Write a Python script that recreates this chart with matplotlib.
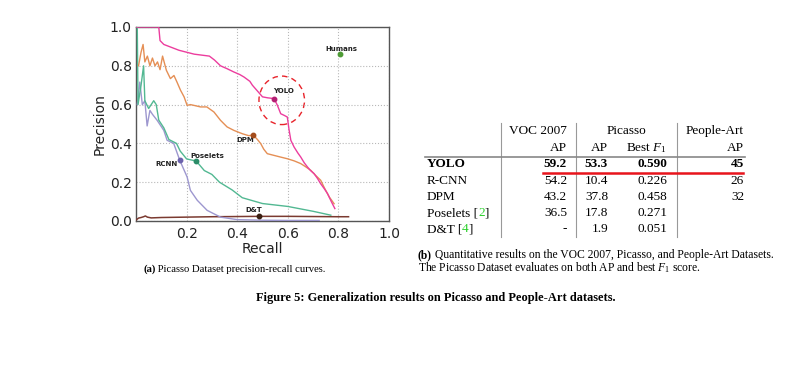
import matplotlib
matplotlib.use("Agg")
import matplotlib.pyplot as plt
from matplotlib.patches import Ellipse
from matplotlib.lines import Line2D

plt.rcParams['mathtext.fontset'] = 'custom'
plt.rcParams['mathtext.rm'] = 'Liberation Serif'
plt.rcParams['mathtext.it'] = 'Liberation Serif:italic'

# ---- precision-recall curves ----
yolo_r = [0.0, 0.09, 0.095, 0.11, 0.13, 0.15, 0.17, 0.2, 0.23, 0.26, 0.29, 0.31, 0.334, 0.36,
          0.387, 0.41, 0.427, 0.45, 0.46, 0.48, 0.50, 0.52, 0.546, 0.559, 0.572, 0.585, 0.598,
          0.605, 0.612, 0.625, 0.64, 0.651, 0.665, 0.678, 0.69, 0.704, 0.717, 0.73, 0.745,
          0.757, 0.772, 0.786]
yolo_p = [1.0, 1.0, 0.93, 0.91, 0.90, 0.89, 0.88, 0.87, 0.86, 0.855, 0.85, 0.83, 0.80, 0.785,
          0.768, 0.755, 0.742, 0.72, 0.70, 0.67, 0.64, 0.635, 0.631, 0.596, 0.553, 0.545, 0.536,
          0.47, 0.416, 0.381, 0.35, 0.33, 0.30, 0.278, 0.26, 0.244, 0.22, 0.192, 0.165, 0.141,
          0.10, 0.064]

dpm_r = [0.01, 0.02, 0.028, 0.035, 0.045, 0.055, 0.065, 0.075, 0.085, 0.095, 0.105, 0.12, 0.136,
         0.15, 0.162, 0.176, 0.19, 0.202, 0.215, 0.229, 0.255, 0.28, 0.308, 0.334, 0.36, 0.387,
         0.42, 0.445, 0.464, 0.48, 0.493, 0.505, 0.519, 0.546, 0.57, 0.598, 0.625, 0.651, 0.67,
         0.691, 0.71, 0.73, 0.745, 0.764, 0.783]
dpm_p = [0.8, 0.87, 0.91, 0.82, 0.85, 0.80, 0.84, 0.80, 0.82, 0.78, 0.85, 0.777, 0.734, 0.75,
         0.716, 0.674, 0.64, 0.596, 0.60, 0.596, 0.588, 0.588, 0.562, 0.519, 0.485, 0.467, 0.45,
         0.44, 0.442, 0.42, 0.399, 0.37, 0.347, 0.338, 0.33, 0.321, 0.31, 0.296, 0.28, 0.261,
         0.235, 0.21, 0.17, 0.124, 0.089]

pose_r = [0.005, 0.008, 0.02, 0.03, 0.035, 0.05, 0.07, 0.08, 0.09, 0.11, 0.13, 0.16, 0.175, 0.2,
          0.238, 0.27, 0.3, 0.33, 0.38, 0.42, 0.5, 0.6, 0.7, 0.77]
pose_p = [1.0, 0.6, 0.7, 0.8, 0.62, 0.58, 0.62, 0.6, 0.52, 0.48, 0.42, 0.40, 0.36, 0.32, 0.309,
          0.26, 0.24, 0.2, 0.16, 0.12, 0.09, 0.075, 0.05, 0.03]

rcnn_r = [0.005, 0.015, 0.025, 0.035, 0.044, 0.055, 0.065, 0.083, 0.11, 0.123, 0.149, 0.173,
          0.202, 0.215, 0.242, 0.281, 0.334, 0.4, 0.5, 0.6, 0.724]
rcnn_p = [0.6, 0.716, 0.6, 0.62, 0.49, 0.57, 0.55, 0.52, 0.467, 0.416, 0.40, 0.313, 0.227,
          0.158, 0.107, 0.055, 0.02, 0.007, 0.004, 0.003, 0.003]

dt_r = [0.0, 0.01, 0.02, 0.03, 0.037, 0.045, 0.06, 0.1, 0.2, 0.3, 0.4, 0.487, 0.6, 0.7, 0.8, 0.84]
dt_p = [0.005, 0.015, 0.018, 0.022, 0.026, 0.02, 0.016, 0.018, 0.02, 0.022, 0.023, 0.024,
        0.024, 0.023, 0.022, 0.022]

# operating points (recall, precision) and labels
pt_names = ["YOLO", "DPM", "Poselets", "RCNN", "D&T", "Humans"]
pt_r = [0.546, 0.464, 0.238, 0.173, 0.487, 0.807]
pt_p = [0.631, 0.442, 0.309, 0.313, 0.024, 0.861]
lab_x = [0.582, 0.43, 0.28, 0.119, 0.464, 0.81]
lab_y = [0.67, 0.415, 0.335, 0.292, 0.055, 0.885]

# ---- table ----
methods = ["YOLO", "R-CNN", "DPM", "Poselets", "D&T"]
refs = ["", "", "", "2", "4"]
voc_ap = ["59.2", "54.2", "43.2", "36.5", "-"]
pic_ap = ["53.3", "10.4", "37.8", "17.8", "1.9"]
pic_f1 = ["0.590", "0.226", "0.458", "0.271", "0.051"]
art_ap = ["45", "26", "32", "", ""]

W, H = 793, 391
fig = plt.figure(figsize=(W / 100, H / 100), dpi=100)
renderer = fig.canvas.get_renderer()
serif = "Liberation Serif"


def fx(x):
    return x / W


def fy(y):
    return 1 - y / H


def chain(x, y, parts, size, gap=0.0):
    # put text pieces one after another, starting at pixel x
    for s, kw in parts:
        t = fig.text(x / W, fy(y), s, fontsize=size, family=serif, va="center", **kw)
        x = t.get_window_extent(renderer).x1 + gap
    return x


ax = fig.add_axes([fx(136), fy(221), fx(389) - fx(136), fy(27) - fy(221)])

ax.plot(dt_r, dt_p, color="#7b3a30", lw=1.1, zorder=3)
ax.plot(rcnn_r, rcnn_p, color="#9d97cf", lw=1.0, zorder=3)
ax.plot(pose_r, pose_p, color="#52b892", lw=1.0, zorder=3)
ax.plot(dpm_r, dpm_p, color="#e58f55", lw=1.0, zorder=3)
ax.plot(yolo_r, yolo_p, color="#ec3d9e", lw=1.0, zorder=3)

mk_cols = ["#b51f74", "#a44d1c", "#2b8c68", "#6c62ac", "#3a1f12", "#4d9b35"]
for i in range(len(pt_names)):
    ax.plot(pt_r[i], pt_p[i], "o", ms=3.2, color=mk_cols[i], zorder=5)
    ax.text(lab_x[i], lab_y[i], pt_names[i], fontsize=5, color="#222222",
            ha="center", va="center", fontweight="bold")

ax.add_patch(Ellipse((0.576, 0.622), 0.18, 0.25, fill=False, ec="#e8232a",
                     ls=(0, (4, 3)), lw=1.0))

ax.set_xlim(0, 1)
ax.set_ylim(0, 1)
ax.set_xticks([0.2, 0.4, 0.6, 0.8, 1.0])
ax.set_yticks([0.0, 0.2, 0.4, 0.6, 0.8, 1.0])
ax.set_xticklabels(["0.2", "0.4", "0.6", "0.8", "1.0"])
ax.tick_params(length=0, labelsize=10, pad=3, colors="#222222")
ax.tick_params(axis="x", pad=4)
ax.grid(True, ls=":", color="#b8b8b8", lw=0.8)
for s in ax.spines.values():
    s.set_color("#555555")
    s.set_linewidth(1.0)
ax.set_xlabel("Recall", fontsize=10, labelpad=1, color="#222222")
ax.set_ylabel("Precision", fontsize=10, labelpad=2, color="#222222")

# ---- captions ----
chain(143, 269, [("(a)", {"fontweight": "bold"}),
                 (" Picasso Dataset precision-recall curves.", {})], 7.7)
chain(418, 255, [("(b)", {"fontweight": "bold"}),
                 (" Quantitative results on the VOC 2007, Picasso, and People-Art Datasets.", {})],
      8.4)
fig.text(fx(418), fy(268), "The Picasso Dataset evaluates on both AP and best $F_1$ score.",
         fontsize=8.4, family=serif, va="center")
fig.text(fx(436), fy(298), "Figure 5: Generalization results on Picasso and People-Art datasets.",
         fontsize=8.9, family=serif, fontweight="bold", va="center", ha="center")

# ---- table drawing ----
ts = 9.5
row_y = [164, 181, 197, 213, 229]
fig.text(fx(567), fy(131), "VOC 2007", fontsize=ts, family=serif, ha="right", va="center")
fig.text(fx(626), fy(131), "Picasso", fontsize=ts, family=serif, ha="center", va="center")
fig.text(fx(744), fy(131), "People-Art", fontsize=ts, family=serif, ha="right", va="center")
for xr, t in [(567, "AP"), (608, "AP"), (667, "Best $F_1$"), (744, "AP")]:
    fig.text(fx(xr), fy(148), t, fontsize=ts, family=serif, ha="right", va="center")

for i, m in enumerate(methods):
    wt = "bold" if i == 0 else "normal"
    if refs[i]:
        chain(427, row_y[i], [(m + " [", {}), (refs[i], {"color": "#2ad02a"}), ("]", {})], ts)
    else:
        fig.text(fx(427), fy(row_y[i]), m, fontsize=ts, family=serif, va="center", fontweight=wt)
    for xr, col in [(567, voc_ap), (608, pic_ap), (667, pic_f1), (744, art_ap)]:
        if col[i]:
            fig.text(fx(xr), fy(row_y[i]), col[i], fontsize=ts, family=serif, ha="right",
                     va="center", fontweight=wt)

for xv in [501, 576, 677]:
    fig.add_artist(Line2D([fx(xv), fx(xv)], [fy(123), fy(237)], color="#999999", lw=0.8))
fig.add_artist(Line2D([fx(425), fx(745)], [fy(157), fy(157)], color="#888888", lw=1.2))
fig.add_artist(Line2D([fx(543), fx(743)], [fy(172.5), fy(172.5)], color="#e8141c", lw=1.8))

fig.savefig("out.png", dpi=100)
